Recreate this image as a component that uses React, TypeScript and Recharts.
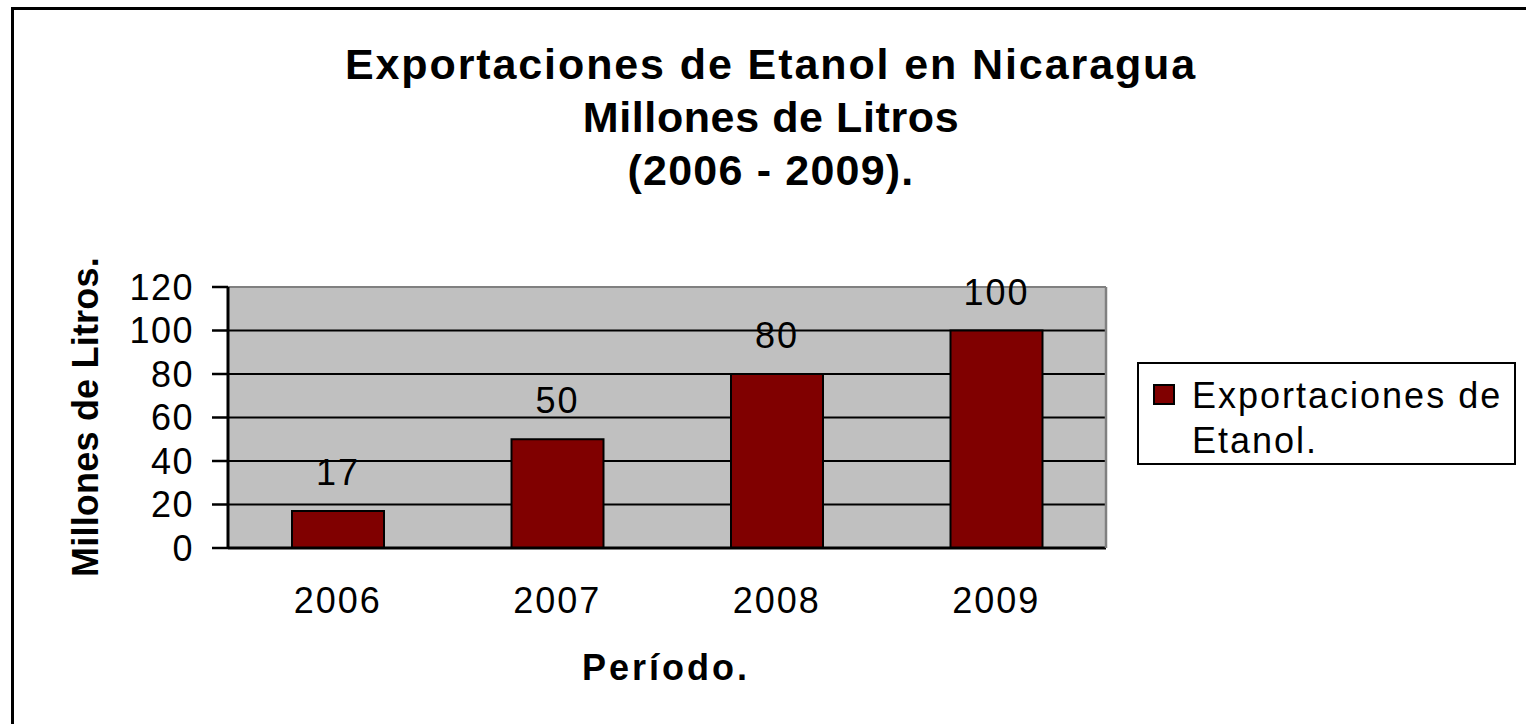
import React from 'react';
import { BarChart, Bar, XAxis, YAxis, CartesianGrid, LabelList } from 'recharts';

const years = ['2006', '2007', '2008', '2009'];
const exports = [17, 50, 80, 100];
const yTicks = [0, 20, 40, 60, 80, 100, 120];
const boundaryTicks = [0, 1, 2, 3, 4];
const seriesName = 'Exportaciones de Etanol.';
const titleLines = ['Exportaciones de Etanol en Nicaragua', 'Millones de Litros', '(2006 - 2009).'];
const titleSpacing = [1.9, 0.6, 1.2];
const yTitle = 'Millones de Litros.';
const xTitle = 'Período.';

const data = years.map((y, i) => ({ year: y, value: exports[i] }));

const FONT = '"Liberation Sans", Arial, sans-serif';
const BAR = '#800000';

export default function App() {
  return (
    <div style={{ position: 'absolute', left: 0, top: 0, width: 1526, height: 724, overflow: 'hidden', background: '#fff', fontFamily: FONT }}>
      <div style={{ position: 'absolute', left: 11, top: 7, width: 1800, height: 900, borderLeft: '3px solid #000', borderTop: '3px solid #000', boxSizing: 'border-box' }} />
      <div style={{ position: 'absolute', left: 0, top: 0 }}>
        <BarChart width={1526} height={724} data={data} margin={{ top: 286, right: 419, bottom: 115, left: 0 }}>
          <CartesianGrid vertical={false} stroke="#000" strokeWidth={2} fill="#C0C0C0" fillOpacity={1} />
          <XAxis xAxisId="top" orientation="top" dataKey="year" height={1} tick={false} tickLine={false} axisLine={{ stroke: '#808080', strokeWidth: 2 }} />
          <XAxis xAxisId="b" type="number" domain={[0, 4]} ticks={boundaryTicks} height={1} tick={false} tickSize={12} tickLine={{ stroke: '#000', strokeWidth: 2.5 }} axisLine={false} allowDataOverflow />
          <XAxis dataKey="year" height={60} tickLine={false} tickSize={0} tickMargin={39} axisLine={{ stroke: '#000', strokeWidth: 3 }} tick={{ fill: '#000', fontSize: 36, fontFamily: FONT, letterSpacing: 2 }} interval={0} />
          <YAxis width={228} domain={[0, 120]} ticks={yTicks} interval={0} tickSize={16} tickMargin={18} axisLine={{ stroke: '#000', strokeWidth: 3 }} tickLine={{ stroke: '#000', strokeWidth: 2.5 }} tick={{ fill: '#000', fontSize: 36, fontFamily: FONT, letterSpacing: 1.5 }} />
          <YAxis yAxisId="r" orientation="right" width={1} domain={[0, 120]} tick={false} tickLine={false} axisLine={{ stroke: '#808080', strokeWidth: 2.5 }} />
          <Bar dataKey="value" name={seriesName} fill={BAR} stroke="#000" strokeWidth={2} barSize={92} isAnimationActive={false}>
            <LabelList dataKey="value" position="top" offset={26} fill="#000" fontSize={36} fontFamily={FONT} letterSpacing={2} />
          </Bar>
        </BarChart>
      </div>
      <div style={{ position: 'absolute', left: 271, width: 1000, top: 38, textAlign: 'center', fontWeight: 'bold', fontSize: 43, lineHeight: '53px', color: '#000' }}>
        {titleLines.map((t, i) => (<div key={t} style={{ letterSpacing: titleSpacing[i] }}>{t}</div>))}
      </div>
      <div style={{ position: 'absolute', left: 86, top: 417, width: 0, height: 0 }}>
        <div style={{ position: 'absolute', left: -200, top: -20, width: 400, height: 40, lineHeight: '40px', textAlign: 'center', transform: 'rotate(-90deg)', fontWeight: 'bold', fontSize: 36, letterSpacing: 0.2, whiteSpace: 'nowrap' }}>{yTitle}</div>
      </div>
      <div style={{ position: 'absolute', left: 466, width: 400, top: 646, lineHeight: '44px', textAlign: 'center', fontWeight: 'bold', fontSize: 36, letterSpacing: 3 }}>{xTitle}</div>
      <div style={{ position: 'absolute', left: 1137, top: 362, width: 379, height: 103, border: '2px solid #000', boxSizing: 'border-box', background: '#fff' }}>
        <div style={{ position: 'absolute', left: 14, top: 20, width: 22, height: 21, background: BAR, border: '2px solid #000', boxSizing: 'border-box' }} />
        <div style={{ position: 'absolute', left: 53, top: 9, width: 320, fontSize: 36, lineHeight: '45px', letterSpacing: 2 }}>{seriesName.replace(' Etanol.', '')}<br />Etanol.</div>
      </div>
    </div>
  );
}
